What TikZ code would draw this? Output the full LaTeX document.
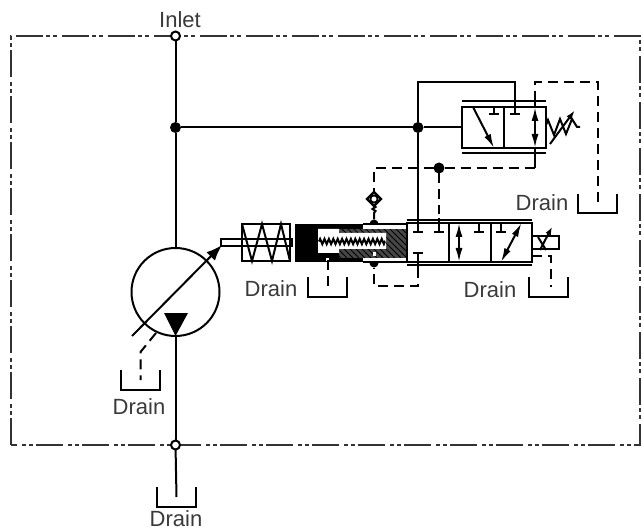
\documentclass[tikz,border=0pt]{standalone}
\usepackage{fontspec}
\setmainfont{Liberation Sans}
\definecolor{hsText}{HTML}{3A3A3A}
\definecolor{hsFrame}{HTML}{333333}
\usetikzlibrary{arrows.meta,patterns,decorations.pathmorphing,shapes.geometric}

\begin{document}
\begin{tikzpicture}[
  x=0.5pt, y=-0.5pt,
  lbl/.style={font=\fontsize{11}{12}\selectfont, text=hsText, inner sep=0pt},
  pipe/.style={line width=1pt, color=black},
  pilot/.style={line width=1pt, color=black, dash pattern=on 5pt off 3pt},
  frameline/.style={line width=0.6pt, color=hsFrame, dash pattern=on 13.5pt off 1.5pt on 2pt off 1.5pt on 2pt off 2.5pt},
  port/.style={circle, draw=black, fill=white, line width=1pt, minimum size=4.5pt, inner sep=0pt, outer sep=0pt},
  dot/.style={circle, fill=black, minimum size=5.5pt, inner sep=0pt, outer sep=0pt},
  box/.style={rectangle, draw=black, line width=1.2pt, fill=white, inner sep=0pt, outer sep=0pt},
  arr/.style={pipe, {Latex[length=7pt,width=3.5pt]}-{Latex[length=7pt,width=3.5pt]}},
  tip/.style={pipe, -{Latex[length=7pt,width=3.5pt]}}
]
  \useasboundingbox (0,0) rectangle (642,529);
  % Enclosure
  \draw[frameline] (11,445) -- (11,36) -- (640,36) -- (640,445) -- cycle;
  % Ports and junctions
  \node[dot] (jMain)   at (175.5,127.5) {};
  \node[dot] (jBranch) at (418,127.5) {};
  \node[dot] (jPilot)  at (439,168) {};
  \node[dot, minimum size=4.5pt] (jHigh) at (374,224) {};
  \node[dot, minimum size=4.5pt] (jLow)  at (374,263) {};
  % Pump
  \node[circle, draw=black, line width=1pt, minimum size=44pt, inner sep=0pt, outer sep=0pt] (pump) at (175.5,292) {};
  \fill (164,313) -- (188,313) -- (pump.south) -- cycle;
  \coordinate (swashLow) at (132,336);
  \coordinate (swashTip) at (222,245);
  \draw[pipe, -{Latex[length=8pt,width=6pt]}] (swashLow) -- (swashTip);
  % Tanks
  \foreach \x/\y/\n in {140.5/370/Pump, 176.5/487/Out, 327.5/277/Mid, 548/277/Main, 597.5/194/Pilot} {
    \draw[pipe] (\x-19.5,\y) -- (\x-19.5,\y+19.5) -- (\x+19.5,\y+19.5) -- (\x+19.5,\y);
    \coordinate (tank\n) at (\x,\y+10);
  }
  % Main lines
  \node[port] (inlet)  at (175.5,36) {};
  \node[port] (outlet) at (175.5,445) {};
  \draw[pipe] (inlet) -- (jMain);
  \draw[pipe] (jMain) -- (pump.north);
  \draw[pipe] (pump.south) -- (outlet);
  \draw[pipe] (outlet) -- (tankOut);
  \draw[pilot] (156,333) -- (140.5,352) -- (tankPump);
  % Stroke piston
  \draw[pipe] (221,239) rectangle (292,246.5);
  \draw[pipe] (242,224) rectangle (290,261);
  \draw[pipe] (242,224) -- (252,261) -- (262,224) -- (272,261) -- (281,224) -- (290,261);
  \fill (295,224) rectangle (363,262);
  \fill[black!72] (339,229) rectangle (407,258);
  \fill[pattern=north west lines] (339,229) rectangle (407,258);
  \fill[white] (318,229) -- (339,229) -- (339,233) -- (386,233) -- (386,249) -- (339,249) -- (339,253) -- (318,253) -- cycle;
  \fill[white] (363,225) rectangle (407,229);
  \fill[white] (363,258) rectangle (407,261.5);
  \fill[white] (372.5,252.5) rectangle (376,256);
  \fill[white] (326,258) rectangle (329,261);
  \draw[line width=1pt, decorate, decoration={zigzag, segment length=2.2pt, amplitude=1.3pt}] (319,241.5) -- (385,241.5);
  \draw[pipe] (363,224) -- (407,224);
  \draw[pipe] (363,262) -- (407,262);
  \draw[pilot] (327.5,260) -- (tankMid);
  % Shuttle valve
  \node[diamond, draw=black, fill=white, line width=1.1pt, minimum size=7pt, inner sep=0pt, outer sep=0pt] (shuttle) at (374,199) {};
  \node[circle, draw=black, fill=white, line width=0.9pt, minimum size=3.6pt, inner sep=0pt] at (shuttle) {};
  \draw[pipe] (shuttle.south) -- (375.5,207) -- (372.5,209) -- (375.5,211) -- (374,213) -- (jHigh);
  \draw[pilot] (jPilot) -- (374,168) -- (shuttle.north);
  % Main valve
  \node[box, minimum width=62.5pt, minimum height=19.5pt] (spool) at (469.5,242.5) {};
  \draw[pipe] (407,220) -- (532,220);
  \draw[pipe] (407,265) -- (532,265);
  \draw[pipe] (449,223) -- (449,262);
  \draw[pipe] (491,223) -- (491,262);
  \draw[arr] (459,223) -- (459,262);
  \draw[arr] (521.5,223) -- (501,262);
  \foreach \x in {418,439,479,501} {
    \draw[pipe] (\x,223) -- (\x,232);
    \draw[pipe] (\x-5,232) -- (\x+5,232);
  }
  \draw[pipe] (413,253) -- (423,253);
  \draw[pipe] (418,253) -- (418,268);
  \draw[pilot] (418,268) -- (418,286) -- (374,286) -- (jLow);
  \draw[pilot] (jPilot) -- (439,214);
  \draw[pipe] (439,218) -- (439,223);
  % Solenoid
  \draw[pipe] (532,236) rectangle (559,249);
  \draw[pipe] (538,237) -- (546,250);
  \draw[pipe, -{Latex[length=4pt,width=3pt]}] (540,250) -- (552,227);
  \draw[pilot] (532,256) -- (551,256) -- (551,287);
  % Pilot valve
  \node[box, minimum width=42pt, minimum height=20.5pt] (relief) at (504,127.5) {};
  \draw[pipe] (462,101) -- (546,101);
  \draw[pipe] (462,153) -- (546,153);
  \draw[pipe] (504,107) -- (504,148);
  \draw[tip] (473,107) -- (494,148);
  \draw[arr] (535,107) -- (535,148);
  \draw[pipe] (494,107) -- (494,114);
  \draw[pipe] (489,114) -- (499,114);
  \draw[pipe] (510,114) -- (520,114);
  \draw[pipe] (546,125) -- (548,120) -- (554,135) -- (560,119) -- (566,134) -- (572,119) -- (577,127) -- (580,127);
  \draw[pipe, -{Latex[length=5pt,width=3pt]}] (550,144) -- (575,110);
  % Pilot connections
  \draw[pipe] (jMain) -- (jBranch);
  \draw[pipe] (jBranch) -- (relief.west);
  \draw[pipe] (jBranch) -- (418,82) -- (515,82) -- (515,114);
  \draw[pipe] (jBranch) -- (418,232);
  \draw[pipe] (535,101) -- (535,107);
  \draw[pipe] (535,148) -- (535,168);
  \draw[pilot] (jPilot) -- (535,168);
  \draw[pilot] (535,101) -- (535,82) -- (597.5,82) -- (tankPilot);
  % Labels
  \node[lbl] (lInlet) at (180,20) {Inlet};
  \node[lbl] (lPump)  at (139,407) {Drain};
  \node[lbl] (lOut)   at (176,519) {Drain};
  \node[lbl] (lMid)   at (271,289) {Drain};
  \node[lbl] (lMain)  at (490,290) {Drain};
  \node[lbl] (lPilot) at (542,203) {Drain};
\end{tikzpicture}
\end{document}
